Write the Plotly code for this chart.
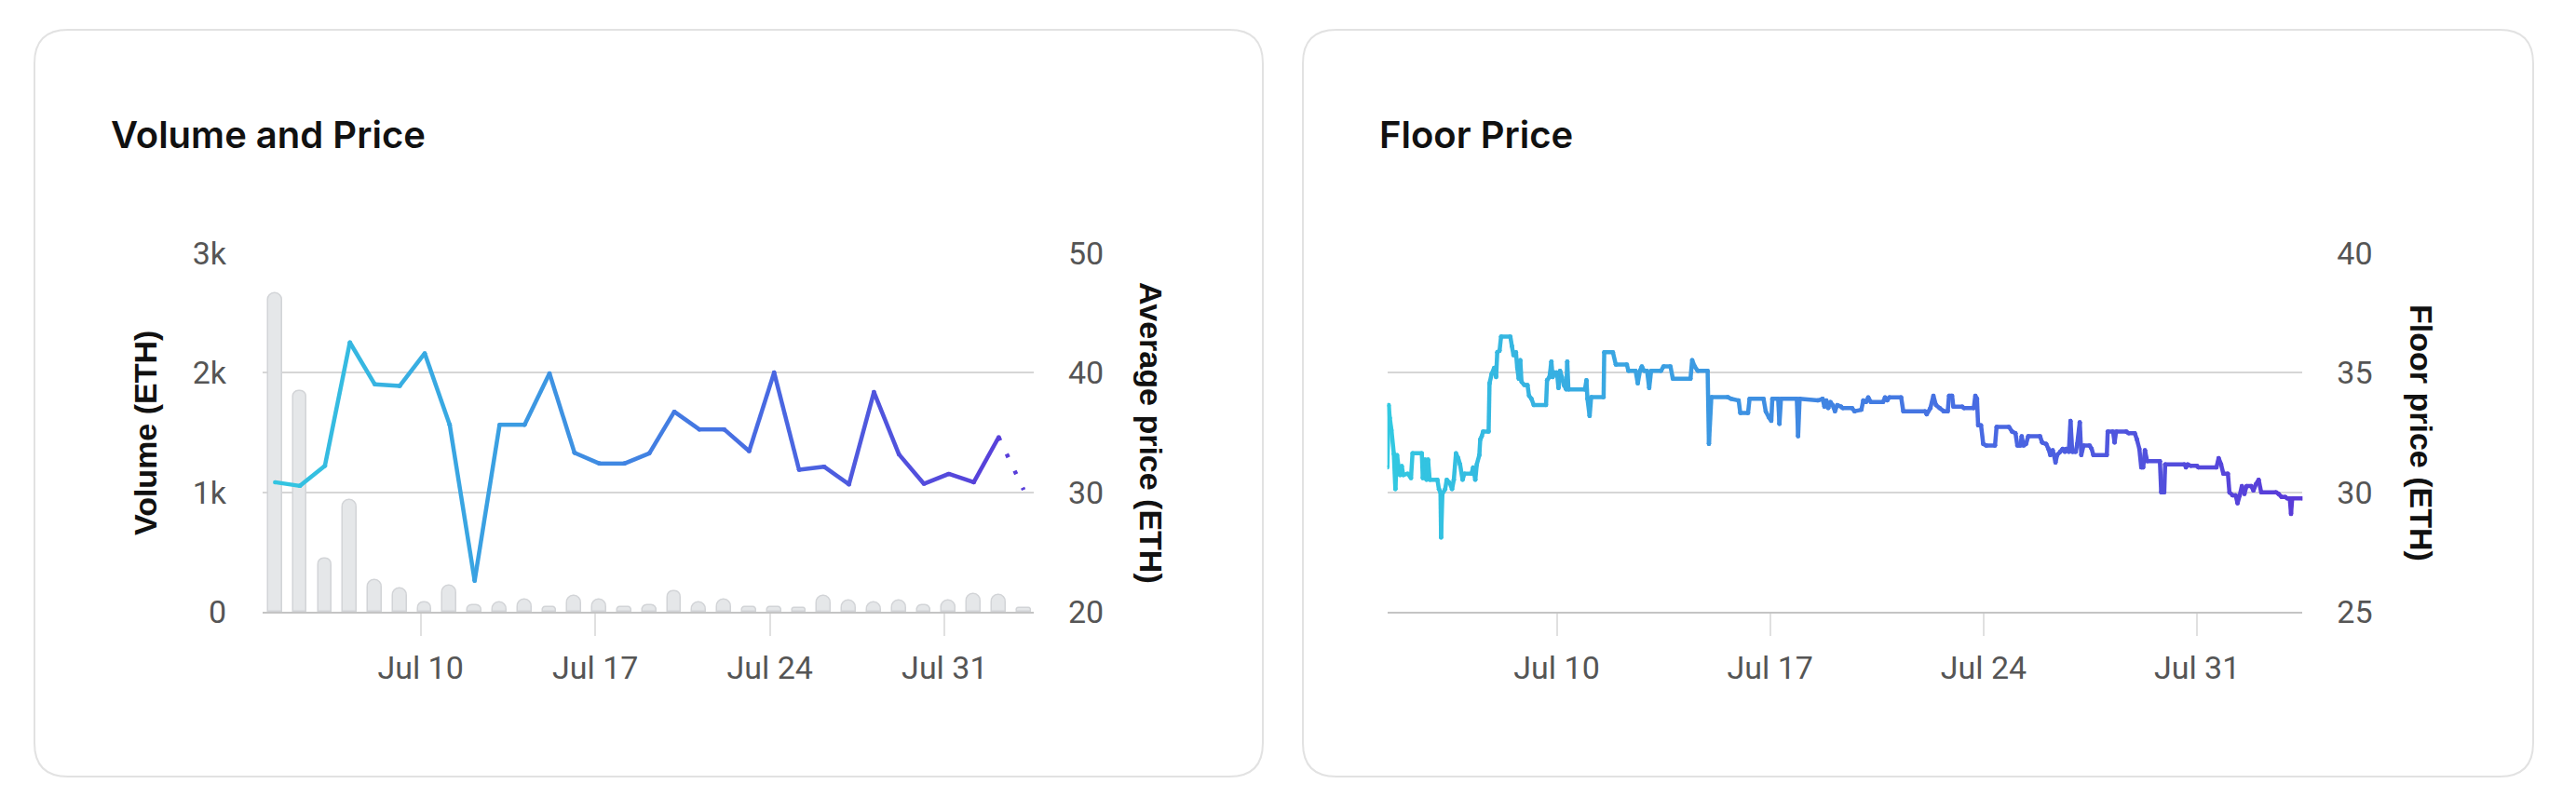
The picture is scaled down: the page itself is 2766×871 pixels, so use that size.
import plotly.graph_objects as go
import pandas as pd

W, H = 2766, 871

# ---------------- data ----------------
days = pd.date_range("2023-07-04", "2023-08-03", freq="D")
volume = [2665, 1848, 448, 935, 268, 194, 78, 215, 57, 78, 98, 37, 132, 98, 37, 57,
          174, 78, 98, 36, 36, 33, 133, 95, 77, 95, 54, 95, 150, 140, 33]
avg_price = [30.84, 30.53, 32.22, 42.54, 39.03, 38.90, 41.63, 35.65, 22.60, 35.65,
             35.65, 39.94, 33.31, 32.40, 32.40, 33.26, 36.74, 35.26, 35.26, 33.44,
             40.02, 31.88, 32.14, 30.66, 38.38, 33.18, 30.71, 31.54, 30.84, 34.61, 30.2]

# floor price: hours since 2023-07-04 00:00 and value (ETH)
floor_hours = [
    10.7, 11.7, 12.6, 13.9, 15.8, 17.0, 18.3, 19.5, 20.7, 22.0, 23.2, 26.8, 29.3, 30.5, 37.8,
    38.6, 40.3, 41.5, 42.7, 44.0, 50.1, 51.3, 52.5, 53.0, 54.0, 56.2, 57.4, 59.8, 61.6, 63.0,
    64.7, 66.4, 67.9, 69.9, 71.3, 77.0, 78.2, 79.9, 81.1, 83.1, 83.8, 85.0, 86.0, 90.4, 91.1,
    92.8, 94.8, 96.3, 97.2, 99.0, 100.2, 107.5, 108.7, 110.0, 111.9, 112.9, 114.1, 115.3, 116.3,
    118.5, 121.0, 122.2, 124.1, 125.9, 135.6, 136.4, 138.3, 139.8, 140.8, 142.2, 144.2, 145.4,
    146.6, 148.1, 149.6, 151.5, 152.3, 153.2, 166.2, 167.4, 168.2, 169.9, 171.1, 180.9, 181.4,
    188.2,
    190.5, 199.2, 200.4, 206.1, 207.8, 209.5, 211.0, 212.7, 215.1, 216.8, 218.3, 226.1, 228.1,
    233.5, 235.4, 249.3, 250.6, 252.5, 255.0, 262.8, 263.8, 265.7, 278.7, 281.1, 287.2, 288.5,
    294.6, 295.8, 306.8, 308.5, 311.0, 312.9, 313.7, 318.3, 319.3, 320.5, 333.0, 334.0, 335.2,
    349.6, 353.3, 354.7, 356.2, 357.7, 359.4, 361.1, 363.0, 364.8, 367.9,
    369.1, 376.5, 378.4, 383.8, 385.3, 387.5, 389.2, 391.2, 400.9, 402.4, 404.1, 405.8, 415.1,
    416.8, 434.0, 435.2, 438.1, 440.5, 442.5, 445.4, 448.6, 451.8, 452.8, 455.2, 456.2, 463.3,
    464.5, 472.3, 473.5, 474.8, 475.7, 478.0, 479.7, 482.1, 489.0, 490.2, 500.0, 502.4, 505.1,
    506.6, 509.0, 510.0, 511.4, 513.4, 515.1, 524.4, 526.1, 529.3, 531.0, 532.5, 534.4, 535.4,
    536.6, 537.9, 540.3, 542.3, 544.0, 545.2,
    547.1, 548.4, 549.8, 552.5, 553.7, 555.7, 556.9, 558.6, 563.5, 565.0, 566.4, 577.0, 577.7,
    581.9, 583.1, 584.3, 592.4, 594.1, 599.0, 600.7, 602.6, 604.1, 605.6, 607.0, 608.7, 618.8,
    619.8, 622.2, 622.9, 638.1, 639.3, 640.5, 643.0, 647.9, 649.1, 663.3, 665.0, 666.9, 668.7,
    672.3, 673.5, 676.0, 678.4, 679.9, 681.6, 683.3, 685.3, 687.0, 690.7, 692.4, 694.3, 696.5,
    698.5, 710.2, 712.2, 714.6, 717.5, 719.0, 721.0, 722.0, 722.9, 731.0]
floor_values = [
    31.04, 33.65, 33.1, 32.6, 31.6, 30.13, 31.56, 31.04, 30.72, 31.1, 30.72, 30.78, 30.59, 31.63, 31.63,
    30.59, 31.37, 30.52, 31.37, 30.52, 30.52, 30.13, 30.0, 28.11, 29.93, 30.13, 30.52, 30.39, 30.13, 30.52,
    31.63, 31.43, 31.17, 30.52, 30.78, 30.78, 31.04, 30.52, 31.17, 31.56, 32.21, 32.34, 32.54, 32.54, 34.56,
    34.95, 35.21, 34.82, 35.86, 35.92, 36.51, 36.51, 36.12, 35.73, 35.86, 35.21, 34.75, 35.53, 34.62,
    34.49, 34.49, 34.04, 33.91, 33.65, 33.65, 34.69, 34.82, 35.47, 34.82, 35.01, 35.01, 34.36,
    35.08, 34.82, 34.49, 34.30, 35.47, 34.30, 34.30, 34.69, 33.91, 33.19, 33.98, 33.98, 35.86,
    35.86,
    35.34, 35.34, 35.08, 35.08, 34.56, 35.08, 35.27, 35.08, 35.08, 34.36, 35.08, 35.08, 35.27,
    35.27, 34.75, 34.75, 35.53, 35.27, 35.08, 35.08, 32.02, 33.98, 33.98, 33.91, 33.84, 33.32,
    33.32, 33.91, 33.91, 33.39, 33.13, 32.99, 33.91, 33.91, 32.86, 33.91, 33.91, 32.34, 33.91,
    33.84, 33.91, 33.58, 33.84, 33.52, 33.78, 33.65, 33.39, 33.65, 33.58,
    33.52, 33.52, 33.39, 33.45, 33.84, 33.78, 33.97, 33.78, 33.78, 33.97, 33.84, 33.97, 33.97,
    33.39, 33.39, 33.26, 33.52, 34.04, 33.65, 33.52, 33.39, 33.39, 34.04, 34.04, 33.58, 33.58,
    33.52, 33.52, 34.04, 33.91, 32.80, 32.80, 32.02, 31.95, 31.95, 32.73, 32.73, 32.54, 32.47,
    31.95, 31.95, 32.34, 31.95, 32.02, 32.34, 32.34, 32.08, 32.02, 31.82, 31.56, 31.76, 31.56,
    31.24, 31.56, 31.69, 31.82, 31.69, 31.82,
    31.69, 32.99, 31.69, 31.69, 32.02, 32.93, 31.56, 31.95, 31.95, 31.82, 31.56, 31.56, 32.54,
    32.54, 32.08, 32.54, 32.54, 32.47, 32.47, 32.21, 31.82, 31.04, 31.04, 31.76, 31.30, 31.30,
    30.00, 30.00, 31.17, 31.17, 31.04, 31.17, 31.11, 31.11, 31.04, 31.04, 31.43, 31.17, 30.78,
    30.78, 30.00, 29.87, 29.87, 29.54, 29.87, 30.26, 29.93, 30.26, 30.26, 30.07, 30.33, 30.52,
    30.0, 30.0, 29.93, 29.80, 29.80, 29.74, 29.74, 29.09, 29.74, 29.74]

tick_dates = ["2023-07-10", "2023-07-17", "2023-07-24", "2023-07-31"]
tick_labels = ["Jul 10", "Jul 17", "Jul 24", "Jul 31"]
vol_ticks = [0, 1000, 2000, 3000]
vol_labels = ["0", "1k", "2k", "3k"]
price_ticks = [20, 30, 40, 50]
floor_ticks = [25, 30, 35, 40]

# ---------------- helpers ----------------
def fx(px):
    return px / W

def fy(py):
    return 1 - py / H

GRAD = [(0.0, (50, 201, 225)), (0.35, (60, 152, 226)), (0.65, (72, 106, 226)), (1.0, (90, 58, 216))]

def grad_color(f):
    f = min(max(f, 0.0), 1.0)
    for (a, ca), (b, cb) in zip(GRAD[:-1], GRAD[1:]):
        if f <= b:
            t = (f - a) / (b - a)
            c = [round(ca[i] + (cb[i] - ca[i]) * t) for i in range(3)]
            return f"rgb({c[0]},{c[1]},{c[2]})"
    c = GRAD[-1][1]
    return f"rgb({c[0]},{c[1]},{c[2]})"

def rounded_rect(x0, y0, x1, y1, r):
    pts = [("M", [(x0 + r, y0)]), ("L", [(x1 - r, y0)]), ("Q", [(x1, y0), (x1, y0 + r)]),
           ("L", [(x1, y1 - r)]), ("Q", [(x1, y1), (x1 - r, y1)]), ("L", [(x0 + r, y1)]),
           ("Q", [(x0, y1), (x0, y1 - r)]), ("L", [(x0, y0 + r)]), ("Q", [(x0, y0), (x0 + r, y0)])]
    s = ""
    for cmd, ps in pts:
        s += cmd + " " + " ".join(f"{fx(a):.6f},{fy(b):.6f}" for a, b in ps) + " "
    return s + "Z"

LW = 4.5
fig = go.Figure()

# ---------------- left chart: volume bars + avg price ----------------
bar_offset = pd.Timedelta(hours=4)
bar_x = days + bar_offset
left_start = pd.Timestamp("2023-07-03 16:06")
left_end = pd.Timestamp("2023-08-03 13:42")
left_span = (left_end - left_start).total_seconds()

fig.add_trace(go.Bar(
    x=bar_x, y=volume, xaxis="x", yaxis="y",
    width=0.55 * 86400000,
    marker=dict(color="#e5e7e9", line=dict(color="#d2d4d7", width=1.5), cornerradius=8),
    hoverinfo="skip", showlegend=False))

for i in range(len(avg_price) - 1):
    xm = bar_x[i] + (bar_x[i + 1] - bar_x[i]) / 2
    f = (xm - left_start).total_seconds() / left_span
    col = grad_color(f)
    dotted = (i == len(avg_price) - 2)
    fig.add_trace(go.Scatter(
        x=[bar_x[i], bar_x[i + 1]], y=[avg_price[i], avg_price[i + 1]],
        xaxis="x", yaxis="y2",
        mode="lines" if dotted else "lines+markers",
        line=dict(color=col, width=LW, dash="4px,16px" if dotted else "solid"),
        marker=dict(size=LW, color=col),
        hoverinfo="skip", showlegend=False))

# ---------------- right chart: floor price ----------------
floor_t = [pd.Timestamp("2023-07-04") + pd.Timedelta(hours=h) for h in floor_hours]
fl_start, fl_end = floor_t[0], floor_t[-1]
fl_span = (fl_end - fl_start).total_seconds()
for i in range(len(floor_t) - 1):
    xm = floor_t[i] + (floor_t[i + 1] - floor_t[i]) / 2
    f = (xm - fl_start).total_seconds() / fl_span
    col = grad_color(f)
    fig.add_trace(go.Scatter(
        x=[floor_t[i], floor_t[i + 1]], y=[floor_values[i], floor_values[i + 1]],
        xaxis="x2", yaxis="y3", mode="lines+markers",
        line=dict(color=col, width=LW), marker=dict(size=LW, color=col),
        hoverinfo="skip", showlegend=False))

# ---------------- layout ----------------
tick_font = dict(family="Roboto, Arial, sans-serif", size=34, color="#555555")
ydom = [fy(657), fy(272)]

xcommon = dict(type="date", tickvals=tick_dates, ticktext=tick_labels, ticks="outside",
               ticklen=24, tickwidth=2, tickcolor="#e0e0e0", showgrid=False, showline=True,
               linecolor="#c4c4c4", linewidth=2, zeroline=False, tickfont=tick_font,
               ticklabelstandoff=5, fixedrange=True, automargin=False)

fig.update_layout(
    width=W, height=H, margin=dict(l=0, r=0, t=0, b=0, pad=0, autoexpand=False),
    paper_bgcolor="white", plot_bgcolor="rgba(0,0,0,0)",
    bargap=0, showlegend=False,
    xaxis=dict(domain=[fx(282), fx(1110)], anchor="y", range=[left_start, left_end], **xcommon),
    yaxis=dict(domain=ydom, anchor="x", range=[0, 3000], tickvals=vol_ticks, ticktext=vol_labels,
               showgrid=True, gridcolor="#d6d6d6", gridwidth=2, zeroline=False, showline=False,
               ticks="", tickfont=tick_font, ticklabelstandoff=38, fixedrange=True, automargin=False),
    yaxis2=dict(overlaying="y", anchor="x", side="right", range=[20, 50], tickvals=price_ticks,
                showgrid=False, zeroline=False, showline=False, ticks="", tickfont=tick_font,
                ticklabelstandoff=36, fixedrange=True, automargin=False),
    xaxis2=dict(domain=[fx(1489.7), fx(2472.3)], anchor="y3", range=[fl_start, fl_end], **xcommon),
    yaxis3=dict(domain=ydom, anchor="x2", side="right", range=[25, 40], tickvals=floor_ticks,
                showgrid=True, gridcolor="#d6d6d6", gridwidth=2, zeroline=False, showline=False,
                ticks="", tickfont=tick_font, ticklabelstandoff=36, fixedrange=True, automargin=False),
)

# cards
for (x0, x1) in [(37, 1356), (1399, 2720)]:
    fig.add_shape(type="path", path=rounded_rect(x0, 32, x1, 834, 36), xref="paper", yref="paper",
                  line=dict(color="#e2e2e2", width=2), fillcolor="white", layer="below")

title_font = dict(family="Inter, Arial, sans-serif", size=40, color="#111111", weight=600)
axis_title_font = dict(family="Liberation Sans, Arial, sans-serif", size=34, color="#111111", weight="bold")

annos = [
    dict(text="Volume and Price", x=fx(117), y=fy(144), xanchor="left", yanchor="middle", font=title_font),
    dict(text="Floor Price", x=fx(1479), y=fy(144), xanchor="left", yanchor="middle", font=title_font),
    dict(text="Volume (ETH)", x=fx(156), y=fy(465), xanchor="center", yanchor="middle",
         textangle=-90, font=axis_title_font),
    dict(text="Average price (ETH)", x=fx(1236), y=fy(465), xanchor="center", yanchor="middle",
         textangle=90, font=axis_title_font),
    dict(text="Floor price (ETH)", x=fx(2600), y=fy(465), xanchor="center", yanchor="middle",
         textangle=90, font=axis_title_font),
]
for a in annos:
    fig.add_annotation(xref="paper", yref="paper", showarrow=False, **a)

fig.write_html("out.html")
